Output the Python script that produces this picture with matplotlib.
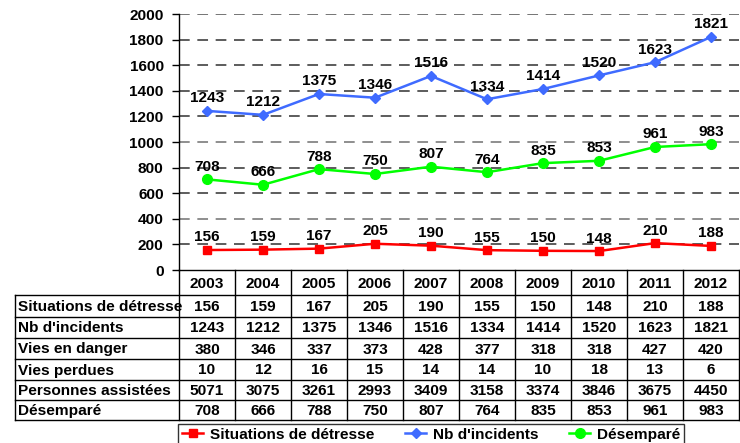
import matplotlib
matplotlib.use("Agg")
import matplotlib.pyplot as plt
from matplotlib.lines import Line2D
import matplotlib.transforms as mtransforms

years = ["2003", "2004", "2005", "2006", "2007", "2008", "2009", "2010", "2011", "2012"]
detresse = [156, 159, 167, 205, 190, 155, 150, 148, 210, 188]
incidents = [1243, 1212, 1375, 1346, 1516, 1334, 1414, 1520, 1623, 1821]
vies_danger = [380, 346, 337, 373, 428, 377, 318, 318, 427, 420]
vies_perdues = [10, 12, 16, 15, 14, 14, 10, 18, 13, 6]
assistees = [5071, 3075, 3261, 2993, 3409, 3158, 3374, 3846, 3675, 4450]
desempare = [708, 666, 788, 750, 807, 764, 835, 853, 961, 983]

row_labels = ["Situations de détresse", "Nb d'incidents", "Vies en danger",
              "Vies perdues", "Personnes assistées", "Désemparé"]
table_rows = [detresse, incidents, vies_danger, vies_perdues, assistees, desempare]
yticks = [0, 200, 400, 600, 800, 1000, 1200, 1400, 1600, 1800, 2000]

plt.rcParams['font.family'] = ['Liberation Sans', 'DejaVu Sans']
plt.rcParams['font.weight'] = 'bold'
FS = 11.1

W, H = 740, 443
fig = plt.figure(figsize=(W / 100, H / 100), dpi=100)
fig.patch.set_facecolor('white')

ax_l, ax_r, ax_t, ax_b = 179, 739, 14, 270
ax = fig.add_axes([ax_l / W, 1 - ax_b / H, (ax_r - ax_l) / W, (ax_b - ax_t) / H])

x = list(range(len(years)))
ax.set_xlim(-0.5, len(years) - 0.5)
ax.set_ylim(0, 2000)
ax.set_yticks(yticks)
ax.set_yticklabels([str(v) for v in yticks], fontsize=FS, fontweight='bold')
ax.set_xticks([])
for s in ['top', 'right']:
    ax.spines[s].set_visible(False)
ax.spines['left'].set_linewidth(1.0)
ax.spines['bottom'].set_linewidth(1.0)
ax.tick_params(axis='y', length=5, width=1, direction='out', pad=6)
grid_cols = {400: '#707070', 1000: '#707070', 2000: '#505050'}
for v in yticks[1:]:
    ax.axhline(v, color=grid_cols.get(v, '#303030'), lw=1.1, ls=(0, (7, 5)), zorder=1)

series = [
    (detresse, '#FF0000', 's', 6, "Situations de détresse"),
    (incidents, '#3F6BFF', 'D', 5, "Nb d'incidents"),
    (desempare, '#00FF00', 'o', 7, "Désemparé"),
]
handles = []
for vals, col, mk, ms, lab in series:
    ln, = ax.plot(x, vals, color=col, marker=mk, ms=ms, lw=1.8, zorder=3, label=lab,
                  clip_on=False)
    handles.append(ln)
    for xi, v in zip(x, vals):
        ax.annotate(str(v), (xi, v), xytext=(0, 4), textcoords='offset points',
                    ha='center', va='bottom', fontsize=FS, fontweight='bold', zorder=4)

# table
blend = mtransforms.blended_transform_factory(ax.transData, fig.transFigure)
def fy(py):
    return 1 - py / H
def fx(px):
    return px / W

tab_left = 15
header_bottom = 295
row_edges = [295, 317, 338, 359, 380, 400, 420]
lc = 'black'
lw = 1.0
for i in range(len(years) + 1):
    xe = i - 0.5
    ax.add_artist(Line2D([xe, xe], [fy(ax_b), fy(row_edges[-1])], transform=blend,
                         color=lc, lw=lw, clip_on=False))
for i, yr in enumerate(years):
    fig.text(i, fy((ax_b + header_bottom) / 2 + 1), yr, transform=blend, fontsize=FS,
             fontweight='bold', ha='center', va='center')
for ye in row_edges:
    fig.add_artist(Line2D([fx(tab_left), fx(ax_r)], [fy(ye), fy(ye)], color=lc, lw=lw))
fig.add_artist(Line2D([fx(tab_left), fx(tab_left)], [fy(row_edges[0]), fy(row_edges[-1])],
                      color=lc, lw=lw))

for r, (lab, vals) in enumerate(zip(row_labels, table_rows)):
    yc = fy((row_edges[r] + row_edges[r + 1]) / 2 + 1)
    fig.text(fx(tab_left + 3), yc, lab, fontsize=FS, fontweight='bold', ha='left', va='center')
    for i, v in enumerate(vals):
        fig.text(i, yc, str(v), transform=blend, fontsize=FS, fontweight='bold',
                 ha='center', va='center')

leg = fig.legend(handles=handles, loc='upper left', bbox_to_anchor=(fx(178), fy(424)),
                 ncol=3, frameon=True, fancybox=False, shadow=False,
                 handlelength=1.4, handletextpad=0.4, columnspacing=2.0, borderpad=0.25,
                 borderaxespad=0, prop={'weight': 'bold', 'size': FS})
leg.get_frame().set_edgecolor('black')
leg.get_frame().set_linewidth(1.0)

fig.savefig('out.png', dpi=100)
